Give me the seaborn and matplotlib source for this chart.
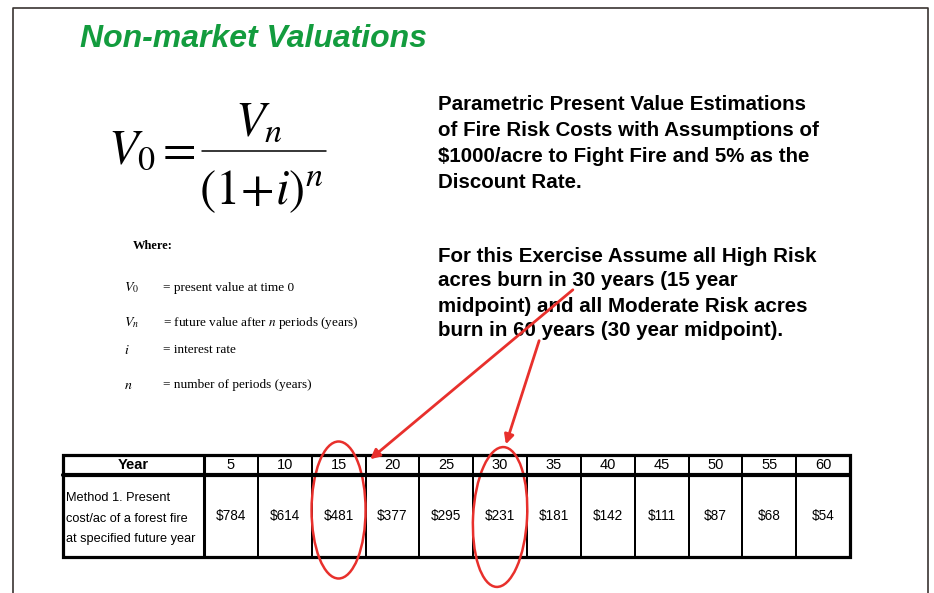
import numpy as np
import pandas as pd
import matplotlib
matplotlib.use('Agg')
import matplotlib.pyplot as plt
from matplotlib.colors import ListedColormap
from matplotlib.patches import Ellipse, Rectangle, FancyArrowPatch
import seaborn as sns

sns.set_theme(style='white')
plt.rcParams['font.family'] = ['Liberation Sans', 'DejaVu Sans']
plt.rcParams['mathtext.fontset'] = 'stix'
plt.rcParams['text.color'] = 'black'

# ---- data ----
title = 'Non-market Valuations'
years = [5, 10, 15, 20, 25, 30, 35, 40, 45, 50, 55, 60]
present_cost = [784, 614, 481, 377, 295, 231, 181, 142, 111, 87, 68, 54]
circled_years = [15, 30]
row_label = ['Method 1. Present', 'cost/ac of a forest fire', 'at specified future year']
block1 = ['Parametric Present Value Estimations',
          'of Fire Risk Costs with Assumptions of',
          '\\$1000/acre to Fight Fire and 5% as the',
          'Discount Rate.']
block2 = ['For this Exercise Assume all High Risk',
          'acres burn in 30 years (15 year',
          'midpoint) and all Moderate Risk acres',
          'burn in 60 years (30 year midpoint).']
where_syms = [r'$V_0$', r'$V_n$', r'$i$', r'$n$']
where_defs = ['= present value at time 0',
              '= future value after $n$ periods (years)',
              '= interest rate',
              '= number of periods (years)']

W, H = 934, 593
red = '#e8302c'
serif = ['Liberation Serif', 'DejaVu Serif']

fig = plt.figure(figsize=(W / 100, H / 100), dpi=100)
fig.patch.set_facecolor('white')

ax = fig.add_axes([0, 0, 1, 1])
ax.set_xlim(0, W)
ax.set_ylim(H, 0)
ax.axis('off')

# slide frame
ax.plot([13, 13, 928, 928], [H, 8, 8, H], color='#3a3431', lw=1.2)

ax.text(80, 39, title, color='#139c3e', fontsize=23, fontweight='bold',
        fontstyle='italic', va='center', ha='left')

# formula
ax.text(108, 163, r'$V_0$', fontsize=35, va='baseline', ha='left')
ax.text(155, 163, r'$=$', fontsize=35, va='baseline', ha='left')
ax.plot([202, 326], [151, 151], color='black', lw=1.1)
ax.text(259, 135, r'$V_n$', fontsize=35, va='baseline', ha='center')
ax.text(261, 204, r'$(1\!+\!i)^n$', fontsize=35, va='baseline', ha='center')

# where block
ax.text(133, 246, 'Where:', family=serif, fontsize=9, fontweight='bold', va='center')
for k, (s, d) in enumerate(zip(where_syms, where_defs)):
    y = [288, 323, 350, 385][k]
    ax.text(124, y, s, fontsize=10, va='center', ha='left')
    ax.text(163, y, d, family=serif, fontsize=9.5, va='center', ha='left')

# right text blocks
for k, line in enumerate(block1):
    ax.text(438, 105 + 25.7 * k, line, fontsize=14.8, fontweight='bold', va='center')
for k, line in enumerate(block2):
    ax.text(438, 256 + 25 * k, line, fontsize=14.8, fontweight='bold', va='center')

# ---- table ----
tx0, tx1, tc, ty0, ty1, ty2 = 63, 850, 204, 455, 475, 557
ax.text((tx0 + tc) / 2, (ty0 + ty1) / 2, 'Year', fontsize=10.5,
        fontweight='bold', ha='center', va='center')
for k, line in enumerate(row_label):
    ax.text(66, 498 + 20.5 * k, line, fontsize=9.2, va='center', ha='left')

white = ListedColormap(['white'])

def fig_rect(x0, y0, x1, y1):
    return [x0 / W, (H - y1) / H, (x1 - x0) / W, (y1 - y0) / H]

ax_head = fig.add_axes(fig_rect(tc, ty0, tx1, ty1), zorder=2)
head_df = pd.DataFrame([years], columns=years)
sns.heatmap(head_df, ax=ax_head, cmap=white, cbar=False,
            annot=np.array([[str(y) for y in years]]), fmt='',
            linewidths=1.1, linecolor='black', xticklabels=False, yticklabels=False,
            annot_kws={'fontsize': 10.5, 'color': 'black'})

ax_body = fig.add_axes(fig_rect(tc, ty1, tx1, ty2), zorder=2)
body_df = pd.DataFrame([present_cost], columns=years)
sns.heatmap(body_df, ax=ax_body, cmap=white, cbar=False,
            annot=np.array([['$%d' % v for v in present_cost]]), fmt='',
            linewidths=1.1, linecolor='black', xticklabels=False, yticklabels=False,
            annot_kws={'fontsize': 9.8, 'color': 'black'})

# overlay: table borders, ellipses and arrows
top = fig.add_axes([0, 0, 1, 1], zorder=5)
top.set_xlim(0, W)
top.set_ylim(H, 0)
top.patch.set_alpha(0)
top.axis('off')
top.add_patch(Rectangle((tx0, ty0), tx1 - tx0, ty2 - ty0, fill=False, lw=2.3, ec='black'))
top.plot([tx0, tx1], [ty1, ty1], color='black', lw=3)
top.plot([tc, tc], [ty0, ty2], color='black', lw=2.2)

colw = (tx1 - tc) / len(years)
for yr, cy, h, ang in zip(circled_years, [510, 517], [137, 140], [0, 3]):
    cx = tc + (years.index(yr) + 0.5) * colw
    top.add_patch(Ellipse((cx, cy), 54, h, angle=ang, fill=False, ec=red, lw=1.8))

for (x0, y0), (x1, y1) in [((575, 288), (368, 461)), ((540, 338), (505, 447))]:
    top.add_patch(FancyArrowPatch((x0, y0), (x1, y1), arrowstyle='-|>',
                                  mutation_scale=14, color=red, lw=2))

fig.savefig('out.png', dpi=100)
